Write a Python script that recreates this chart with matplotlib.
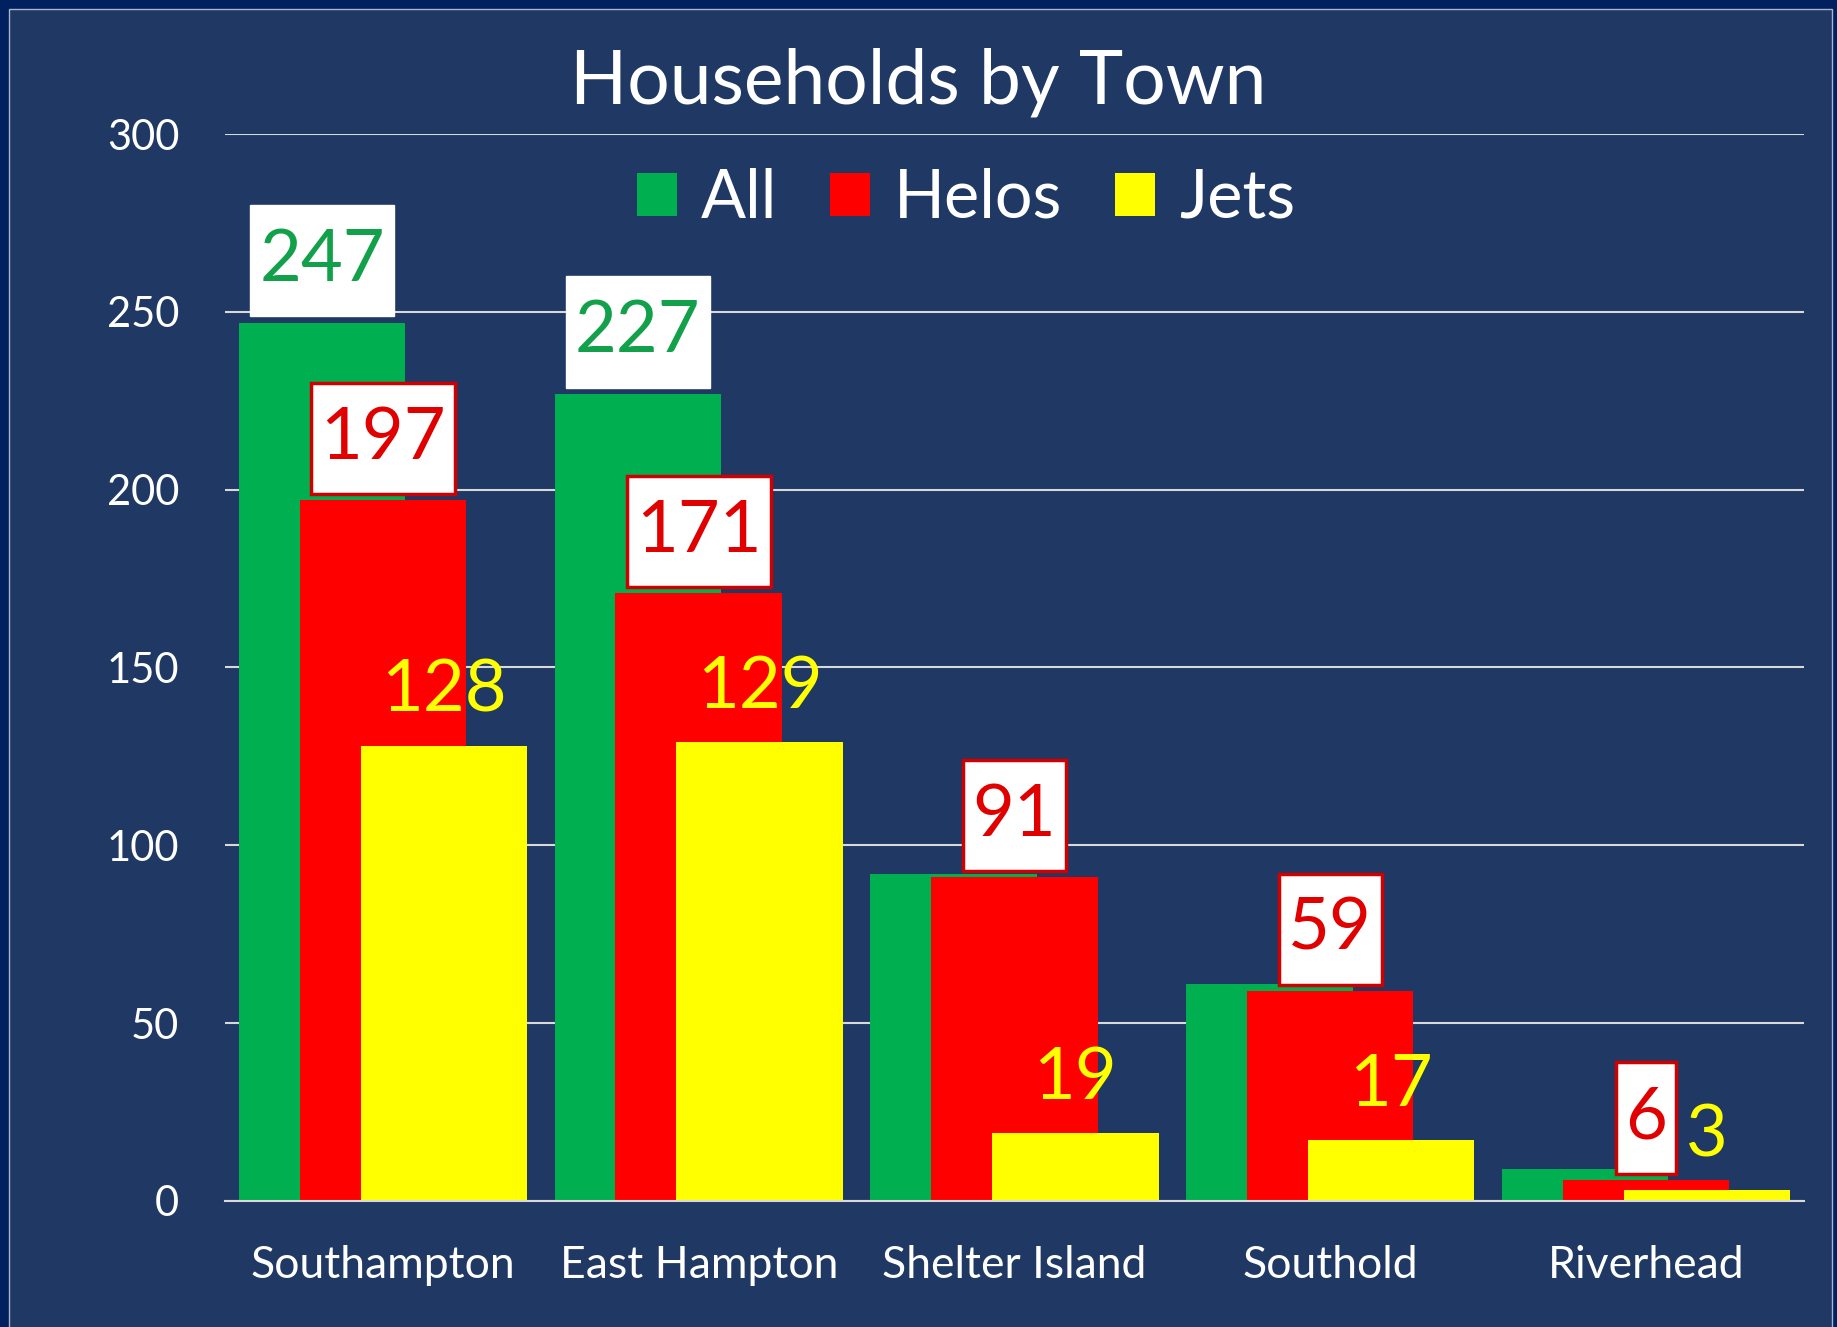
import matplotlib.pyplot as plt
from matplotlib.patches import Rectangle
from matplotlib.path import Path
import numpy as np

# data
towns = ["Southampton", "East Hampton", "Shelter Island", "Southold", "Riverhead"]
all_hh = [247, 227, 92, 61, 9]
helos = [197, 171, 91, 59, 6]
jets = [128, 129, 19, 17, 3]
# which bars carry a value label
all_labeled = [True, True, False, False, False]

plt.rcParams['font.family'] = ['Lato', 'DejaVu Sans']

bg = "#1f3864"
green = "#00b050"
red = "#ff0000"
yellow = "#ffff00"
grid_col = "#d9d9d9"


# label box: a bit taller than wide padding, like the office data labels
def tall_box(x0, y0, width, height, mutation_size):
    px = 0.13 * mutation_size
    py = 0.32 * mutation_size
    x0, y0 = x0 - px, y0 - py
    x1, y1 = x0 + width + 2 * px, y0 + height + 2 * py
    return Path([(x0, y0), (x1, y0), (x1, y1), (x0, y1), (x0, y0)], closed=True)


fig = plt.figure(figsize=(18.37, 13.27), dpi=100)
fig.patch.set_facecolor("#002060")
# inner panel with thin light frame
fig.patches.append(Rectangle((9 / 1837, -0.01), 1 - 14 / 1837, 1.01 - 9 / 1327,
                             transform=fig.transFigure, facecolor=bg,
                             edgecolor="#aab4cc", lw=1.0, zorder=-10))

ax = fig.add_axes([0.1225, 0.095, 0.8595, 0.804])
ax.patch.set_alpha(0)

x = np.arange(len(towns))
w = 0.527
off = 0.193

ax.bar(x - off, all_hh, w, color=green, zorder=2, label="All")
ax.bar(x, helos, w, color=red, zorder=3, label="Helos")
ax.bar(x + off, jets, w, color=yellow, zorder=4, label="Jets")

# value labels
for i in range(len(towns)):
    if all_labeled[i]:
        ax.annotate(str(all_hh[i]), (x[i] - off, all_hh[i]), xytext=(0, 21),
                    textcoords="offset points", ha="center", va="bottom",
                    fontsize=52, color="#12a04a", zorder=6,
                    bbox=dict(boxstyle=tall_box, fc="white", ec="white"))
    ax.annotate(str(helos[i]), (x[i], helos[i]), xytext=(0, 21),
                textcoords="offset points", ha="center", va="bottom",
                fontsize=52, color="#e00000", zorder=7,
                bbox=dict(boxstyle=tall_box, fc="white", ec="#d00000", lw=2.5))
    ax.annotate(str(jets[i]), (x[i] + off, jets[i]), xytext=(0, 16),
                textcoords="offset points", ha="center", va="bottom",
                fontsize=52, color=yellow, zorder=8)

ax.set_xlim(-0.5, len(towns) - 0.5)
ax.set_ylim(0, 300)
ax.set_yticks(range(0, 301, 50))
ax.set_xticks(x)
ax.set_xticklabels(towns)
ax.tick_params(axis="both", length=0, colors="white")
ax.tick_params(axis="x", labelsize=32, pad=32)
ax.tick_params(axis="y", labelsize=30, pad=33)
ax.grid(axis="y", color=grid_col, lw=1.5, zorder=1)
for s in ["top", "right", "left"]:
    ax.spines[s].set_visible(False)
ax.spines["bottom"].set_color(grid_col)
ax.spines["bottom"].set_linewidth(1.5)
ax.spines["bottom"].set_zorder(5)

fig.text(0.5, 1 - 82 / 1327, "Households by Town", ha="center", va="center",
         fontsize=54, color="white")

leg = ax.legend(loc="center", bbox_to_anchor=(966 / 1837, 1 - 199 / 1327),
                bbox_transform=fig.transFigure, ncol=3, frameon=False,
                fontsize=48, handlelength=0.6, handleheight=0.6,
                handletextpad=0.35, columnspacing=0.8)
for t in leg.get_texts():
    t.set_color("white")

fig.savefig("out.png", dpi=100, facecolor=fig.get_facecolor())
